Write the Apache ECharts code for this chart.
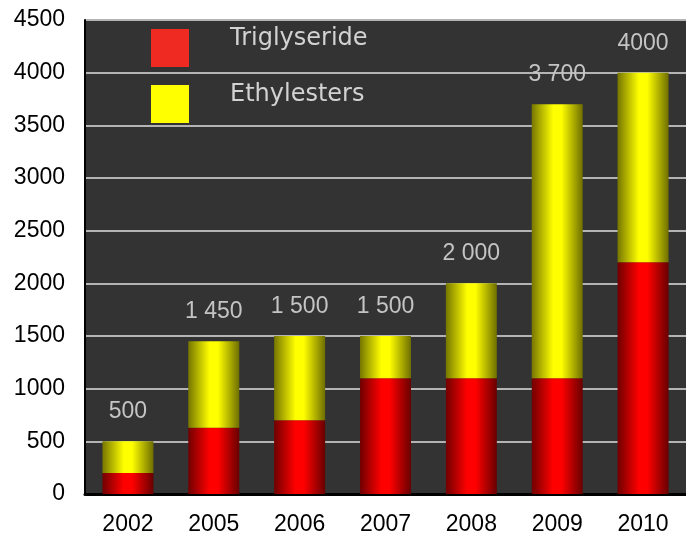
<!DOCTYPE html>
<html>
<head>
<meta charset="utf-8">
<script src="https://cdn.jsdelivr.net/npm/echarts@6/dist/echarts.min.js"></script>
<style>
  html, body { margin: 0; padding: 0; background: #fff; }
  #main { width: 686px; height: 537px; }
</style>
</head>
<body>
<div id="main"></div>
<script>
// data
var years = ['2002', '2005', '2006', '2007', '2008', '2009', '2010'];
var triglyseride = [200, 630, 700, 1100, 1100, 1100, 2200];
var ethylesters = [300, 820, 800, 400, 900, 2600, 1800];
var totalLabels = ['500', '1 450', '1 500', '1 500', '2 000', '3 700', '4000'];
var seriesNames = ['Triglyseride', 'Ethylesters'];

var chart = echarts.init(document.getElementById('main'));

// cylinder-like horizontal shading
function shade(dark, light, dark2) {
  return new echarts.graphic.LinearGradient(0, 0, 1, 0, [
    { offset: 0, color: dark },
    { offset: 0.42, color: light },
    { offset: 0.58, color: light },
    { offset: 1, color: dark2 }
  ]);
}

var legendText = { fill: '#d2d2d2', fontFamily: 'DejaVu Sans', fontSize: 24 };

var option = {
  backgroundColor: '#ffffff',
  animation: false,
  grid: {
    left: 85,
    right: -5,
    top: 20,
    bottom: 43,
    show: true,
    backgroundColor: '#333333',
    borderWidth: 0
  },
  // legend squares only, names drawn as graphic text a bit higher (like the original)
  legend: {
    orient: 'vertical',
    left: 151,
    top: 29,
    padding: 0,
    icon: 'rect',
    itemWidth: 38,
    itemHeight: 38,
    itemGap: 18,
    selectedMode: false,
    formatter: function () { return ''; },
    data: [
      { name: seriesNames[0], itemStyle: { color: '#ee2a22' } },
      { name: seriesNames[1], itemStyle: { color: '#ffff00' } }
    ]
  },
  graphic: [
    { type: 'text', left: 230, top: 27, style: Object.assign({ text: seriesNames[0] }, legendText) },
    { type: 'text', left: 230, top: 83, style: Object.assign({ text: seriesNames[1] }, legendText) }
  ],
  xAxis: {
    type: 'category',
    data: years,
    axisLine: { lineStyle: { color: '#000', width: 3 } },
    axisTick: { show: false },
    axisLabel: {
      color: '#000',
      fontFamily: 'Liberation Sans',
      fontSize: 23,
      margin: 19
    }
  },
  yAxis: {
    type: 'value',
    min: 0,
    max: 4500,
    interval: 500,
    axisLine: { show: true, lineStyle: { color: '#000', width: 2 } },
    axisTick: { show: false },
    axisLabel: {
      color: '#000',
      fontFamily: 'Liberation Sans',
      fontSize: 23,
      margin: 20,
      formatter: function (v) { return String(v); }
    },
    splitLine: { lineStyle: { color: '#b4b4b4', width: 2 } }
  },
  series: [
    {
      name: seriesNames[0],
      type: 'bar',
      stack: 'total',
      barWidth: 51,
      data: triglyseride,
      itemStyle: { color: shade('#700000', '#ff0000', '#680000') }
    },
    {
      name: seriesNames[1],
      type: 'bar',
      stack: 'total',
      barWidth: 51,
      data: ethylesters,
      itemStyle: { color: shade('#767600', '#ffff00', '#6e6e00') },
      label: {
        show: true,
        position: 'top',
        distance: 18,
        color: '#c4c4c4',
        fontFamily: 'Liberation Sans',
        fontSize: 23,
        formatter: function (p) { return totalLabels[p.dataIndex]; }
      }
    }
  ]
};

chart.setOption(option);
</script>
</body>
</html>
